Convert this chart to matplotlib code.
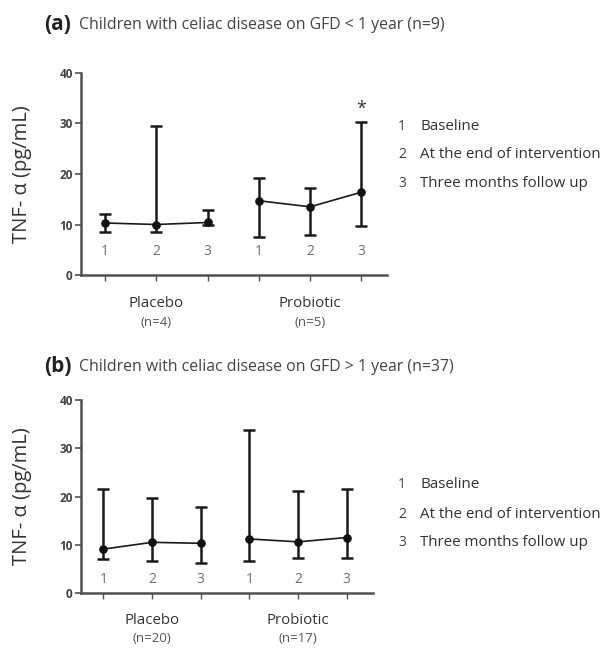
import numpy as np
import matplotlib
matplotlib.use("Agg")
import matplotlib.pyplot as plt

plt.rcParams["font.family"] = ["Open Sans", "DejaVu Sans"]

timepoints = ["1", "2", "3"]
groups = ["Placebo", "Probiotic"]
legend_items = ["Baseline", "At the end of intervention", "Three months follow up"]

# panel (a): GFD < 1 year
a_title = "Children with celiac disease on GFD < 1 year (n=9)"
a_n = ["(n=4)", "(n=5)"]
a_mid = [[10.3, 10.0, 10.4], [14.7, 13.5, 16.4]]
a_low = [[8.5, 8.5, 9.9], [7.6, 7.9, 9.7]]
a_high = [[12.1, 29.5, 12.9], [19.3, 17.2, 30.2]]
a_star = [(1, 2, 33.0)]   # group, timepoint, height

# panel (b): GFD > 1 year
b_title = "Children with celiac disease on GFD > 1 year (n=37)"
b_n = ["(n=20)", "(n=17)"]
b_mid = [[9.1, 10.5, 10.3], [11.2, 10.6, 11.5]]
b_low = [[7.0, 6.6, 6.3], [6.6, 7.2, 7.2]]
b_high = [[21.6, 19.7, 17.8], [33.7, 21.1, 21.6]]

W, H = 613, 652
fig = plt.figure(figsize=(W / 100, H / 100), dpi=100)

AX = "#505050"
TXT = "#333333"


def px(x0, y0, x1, y1):
    return [x0 / W, 1 - y1 / H, (x1 - x0) / W, (y1 - y0) / H]


def panel(rect, letter, title, title_y, mid, low, high, ns, num_y, xlim,
          legend_ys, stars=()):
    ax = fig.add_axes(rect)
    axw = rect[2] * W
    for g in range(2):
        x = np.arange(3) + 1 + 3 * g
        m = np.array(mid[g])
        yerr = [m - np.array(low[g]), np.array(high[g]) - m]
        ax.errorbar(x, m, yerr=yerr, fmt="none", ecolor="#1a1a1a",
                    elinewidth=1.8, capsize=4.5, capthick=1.8, zorder=2)
        ax.plot(x, m, color="#1a1a1a", lw=1.2, zorder=3)
        ax.plot(x, m, ls="none", marker="o", ms=5.2, color="#111111", zorder=4)
        for i, t in enumerate(timepoints):
            ax.text(x[i], num_y, t, ha="center", va="center", fontsize=10,
                    color="#707070")
    for g, t, h in stars:
        ax.text(1 + 3 * g + t, h, "*", ha="center", va="center",
                fontsize=13, color="#333333")
    ax.set_ylim(0, 40)
    ax.set_xlim(*xlim)
    ax.set_yticks([0, 10, 20, 30, 40])
    ax.set_xticks(np.arange(1, 7))
    ax.set_xticklabels([""] * 6)
    for s in ("top", "right"):
        ax.spines[s].set_visible(False)
    for s in ("left", "bottom"):
        ax.spines[s].set_color(AX)
        ax.spines[s].set_linewidth(1.8)
    ax.tick_params(axis="y", length=4, width=1.2, color=AX, labelsize=8.5,
                   labelcolor="#444444", pad=2)
    ax.tick_params(axis="x", length=4, width=1.0, color=AX)
    for lab in ax.get_yticklabels():
        lab.set_fontweight("bold")
    ax.set_ylabel("TNF- α (pg/mL)", fontsize=14.5, color=TXT)
    ax.yaxis.set_label_coords(-49 / axw, 0.5)
    for g in range(2):
        ax.text(2 + 3 * g, -0.14, groups[g], transform=ax.get_xaxis_transform(),
                ha="center", va="center", fontsize=10.8, color=TXT)
        ax.text(2 + 3 * g, -0.235, ns[g], transform=ax.get_xaxis_transform(),
                ha="center", va="center", fontsize=9.5, color="#555555")
    fig.text(44 / W, 1 - title_y / H, "(" + letter + ")", fontsize=15,
             fontweight="bold", ha="left", va="center", color="#222222")
    fig.text(79 / W, 1 - title_y / H, title, fontsize=11.4, ha="left",
             va="center", color="#444444")
    for i, ly in enumerate(legend_ys):
        fig.text(402 / W, 1 - ly / H, timepoints[i], fontsize=10, ha="center",
                 va="center", color="#444444")
        fig.text(420 / W, 1 - ly / H, legend_items[i], fontsize=10.9, ha="left",
                 va="center", color="#333333")
    return ax


panel(px(81, 73, 387, 275), "a", a_title, 25, a_mid, a_low, a_high, a_n,
      4.6, (0.53, 6.5), [126, 155, 184], stars=a_star)
panel(px(81, 400, 373, 593), "b", b_title, 367, b_mid, b_low, b_high, b_n,
      2.8, (0.54, 6.54), [485, 514, 543])

fig.savefig("out.png", dpi=100)
